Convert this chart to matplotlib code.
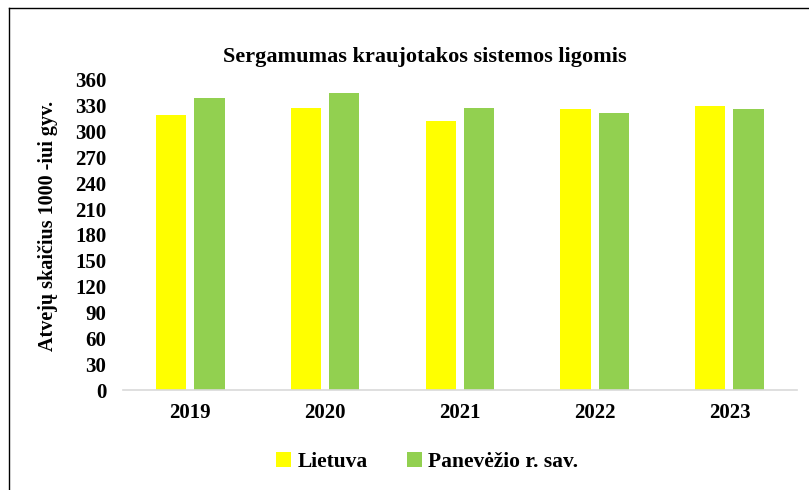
import matplotlib.pyplot as plt
import numpy as np
from matplotlib.lines import Line2D

# data
years = ['2019', '2020', '2021', '2022', '2023']
lietuva = [319, 327, 312, 326, 330]
panevezio = [339, 345, 327, 321, 326]
series_names = ['Lietuva', 'Panevėžio r. sav.']
yticks = list(range(0, 361, 30))

plt.rcParams['font.family'] = ['Liberation Serif', 'DejaVu Serif']
plt.rcParams['font.weight'] = 'bold'

fig = plt.figure(figsize=(8.09, 4.90), dpi=100)
ax = fig.add_axes([0.152, 0.204, 0.833, 0.633])

x = np.arange(len(years))
w = 0.225
ax.bar(x - 0.142, lietuva, w, color='#ffff00', label=series_names[0])
ax.bar(x + 0.142, panevezio, w, color='#92d050', label=series_names[1])

ax.set_xlim(-0.5, len(years) - 0.5)
ax.set_ylim(0, 360)
ax.set_yticks(yticks)
ax.set_xticks(x)
ax.set_xticklabels(years)
ax.tick_params(axis='both', length=0, labelsize=15)
ax.tick_params(axis='x', pad=9)
ax.tick_params(axis='y', pad=12)
for lab in ax.get_xticklabels() + ax.get_yticklabels():
    lab.set_fontweight('bold')

for s in ['top', 'right', 'left']:
    ax.spines[s].set_visible(False)
ax.spines['bottom'].set_color('#d9d9d9')
ax.spines['bottom'].set_linewidth(1.2)

ax.set_ylabel('Atvejų skaičius 1000 -iui gyv.', fontsize=14.5, fontweight='bold')
ax.yaxis.set_label_coords(-0.097, 0.53)
fig.text(0.525, 0.883, 'Sergamumas kraujotakos sistemos ligomis', ha='center', va='center',
         fontsize=16, fontweight='bold')

fig.legend(loc='center', bbox_to_anchor=(0.528, 0.058), ncol=2, frameon=False,
           handlelength=0.7, handleheight=0.7, handletextpad=0.3,
           columnspacing=1.8, prop={'weight': 'bold', 'size': 15.5})

# outer frame (left and top edges visible)
fig.add_artist(Line2D([0.011, 0.011], [0, 0.984], transform=fig.transFigure, color='black', lw=1))
fig.add_artist(Line2D([0.011, 1.0], [0.984, 0.984], transform=fig.transFigure, color='black', lw=1))

fig.savefig('out.png', dpi=100)
